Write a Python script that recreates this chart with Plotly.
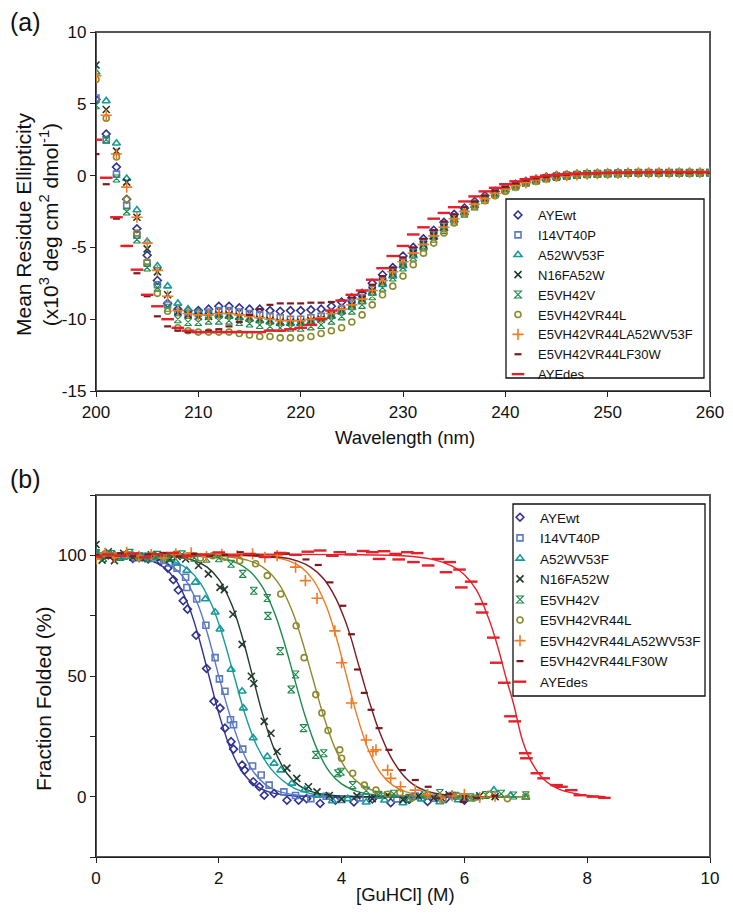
import plotly.graph_objects as go

# the page keeps an 8px body margin; size the figure so that nothing scrolls
PAGE_W, PAGE_H, OFFSET = 733, 914, 8
W, H = PAGE_W - OFFSET, PAGE_H - 2 * OFFSET
FONT = "Liberation Sans, Arial, Helvetica, sans-serif"

# ---------- styles shared by both panels ----------
NAMES = ["AYEwt", "I14VT40P", "A52WV53F", "N16FA52W", "E5VH42V",
         "E5VH42VR44L", "E5VH42VR44LA52WV53F", "E5VH42VR44LF30W", "AYEdes"]
COLORS = ["#2E3192", "#5A78C4", "#179A9A", "#1F3A2A", "#1D8A4B",
          "#8C8A2C", "#F27A24", "#7A1A1E", "#E5202A"]
SYMBOLS = ["diamond-open", "square-open", "triangle-up-open", "x-thin-open",
           "hourglass-open", "circle-open", "cross-thin-open", "line-ew-open", "line-ew-open"]
SIZES = [6, 6, 7, 7, 7, 6, 8, 5, 9]
WIDTHS = [1.6, 1.6, 1.6, 1.6, 1.1, 1.6, 1.6, 2.2, 2.4]

# ---------- panel (a): CD spectra ----------
WAVELENGTH = [200, 201, 202, 203, 204, 205, 206, 207, 208, 209,
              210, 211, 212, 213, 214, 215, 216, 217, 218, 219,
              220, 221, 222, 223, 224, 225, 226, 227, 228, 229,
              230, 231, 232, 233, 234, 235, 236, 237, 238, 239,
              240, 241, 242, 243, 244, 245, 246, 247, 248, 249,
              250, 251, 252, 253, 254, 255, 256, 257, 258, 259,
              260]

CD_AYEWT = [5.3, 2.9, 0.6, -1.65, -3.7, -5.55, -7.3, -8.9, -9.3, -9.4,
            -9.4, -9.3, -9.1, -9.1, -9.2, -9.3, -9.3, -9.4, -9.45, -9.4,
            -9.4, -9.35, -9.3, -9.1, -8.8, -8.5, -8.2, -7.5, -6.9, -6.4,
            -5.6, -5.0, -4.4, -3.8, -3.25, -2.7, -2.25, -1.8, -1.4, -1.1,
            -0.85, -0.6, -0.4, -0.25, -0.1, 0.0, 0.05, 0.1, 0.12, 0.15,
            0.15, 0.18, 0.2, 0.2, 0.2, 0.22, 0.2, 0.2, 0.22, 0.2,
            0.2]
CD_I14VT40P = [5.4, 2.5, 0.1, -2.1, -4.15, -6.1, -7.6, -9.0, -9.5, -9.6,
               -9.6, -9.5, -9.4, -9.4, -9.5, -9.6, -9.7, -9.8, -9.9, -10.0,
               -10.0, -9.9, -9.8, -9.6, -9.3, -8.9, -8.5, -7.9, -7.3, -6.7,
               -6.0, -5.3, -4.7, -4.1, -3.5, -2.9, -2.4, -1.95, -1.55, -1.2,
               -0.9, -0.65, -0.45, -0.3, -0.15, -0.05, 0.0, 0.05, 0.1, 0.12,
               0.15, 0.15, 0.18, 0.2, 0.2, 0.2, 0.2, 0.22, 0.2, 0.2,
               0.22]
CD_A52WV53F = [7.2, 5.2, 2.25, -0.2, -2.4, -4.6, -6.3, -7.7, -8.9, -9.3,
               -9.5, -9.6, -9.7, -9.8, -9.9, -10.0, -10.1, -10.2, -10.3, -10.3,
               -10.3, -10.2, -10.0, -9.8, -9.5, -9.2, -8.8, -8.2, -7.6, -7.0,
               -6.3, -5.6, -5.0, -4.3, -3.7, -3.1, -2.6, -2.1, -1.65, -1.3,
               -1.0, -0.7, -0.5, -0.35, -0.2, -0.1, 0.0, 0.05, 0.1, 0.1,
               0.15, 0.15, 0.18, 0.2, 0.2, 0.2, 0.2, 0.2, 0.2, 0.2,
               0.2]
CD_N16FA52W = [7.7, 4.6, 1.7, -0.45, -2.9, -5.1, -6.7, -8.3, -9.5, -9.7,
               -9.8, -9.8, -9.7, -9.7, -9.8, -9.9, -10.0, -10.1, -10.2, -10.2,
               -10.2, -10.1, -10.0, -9.7, -9.4, -9.0, -8.6, -8.0, -7.4, -6.8,
               -6.1, -5.4, -4.8, -4.2, -3.6, -3.0, -2.5, -2.0, -1.6, -1.25,
               -0.95, -0.7, -0.5, -0.3, -0.15, -0.05, 0.0, 0.05, 0.1, 0.12,
               0.15, 0.15, 0.18, 0.2, 0.2, 0.2, 0.2, 0.2, 0.2, 0.2,
               0.2]
CD_E5VH42V = [4.9, 2.5, -0.2, -2.5, -4.45, -6.4, -7.8, -9.2, -10.0, -10.2,
              -10.2, -10.1, -10.1, -10.1, -10.2, -10.3, -10.4, -10.5, -10.6, -10.6,
              -10.6, -10.5, -10.4, -10.1, -9.8, -9.4, -9.0, -8.4, -7.8, -7.1,
              -6.4, -5.7, -5.0, -4.4, -3.8, -3.2, -2.65, -2.15, -1.7, -1.3,
              -1.0, -0.75, -0.5, -0.35, -0.2, -0.1, 0.0, 0.05, 0.1, 0.12,
              0.15, 0.15, 0.18, 0.2, 0.2, 0.2, 0.2, 0.2, 0.2, 0.2,
              0.2]
CD_R44L = [6.7, 4.0, 1.3, -1.65, -4.0, -6.0, -8.2, -9.45, -10.6, -10.8,
           -10.9, -10.9, -10.9, -10.9, -11.0, -11.1, -11.2, -11.2, -11.3, -11.3,
           -11.3, -11.2, -11.0, -10.8, -10.6, -10.2, -9.7, -9.0, -8.3, -7.7,
           -7.0, -6.2, -5.4, -4.7, -4.0, -3.3, -2.6, -2.15, -1.75, -1.4,
           -1.1, -0.8, -0.55, -0.35, -0.2, -0.1, 0.0, 0.05, 0.1, 0.12,
           0.15, 0.15, 0.18, 0.2, 0.2, 0.2, 0.2, 0.2, 0.2, 0.2,
           0.2]
CD_R44L_A52W = [6.95, 4.2, 1.5, -0.8, -2.9, -4.7, -6.6, -8.4, -9.4, -9.6,
                -9.7, -9.7, -9.6, -9.6, -9.7, -9.8, -9.9, -10.0, -10.1, -10.1,
                -10.1, -10.0, -9.9, -9.6, -9.3, -9.0, -8.6, -8.0, -7.3, -6.7,
                -6.0, -5.4, -4.8, -4.2, -3.6, -3.0, -2.5, -2.0, -1.6, -1.25,
                -0.95, -0.7, -0.5, -0.3, -0.15, -0.05, 0.0, 0.05, 0.1, 0.12,
                0.15, 0.15, 0.18, 0.2, 0.2, 0.2, 0.2, 0.2, 0.2, 0.2,
                0.2]
CD_R44L_F30W = [1.5, -0.6, -3.0, -4.9, -6.8, -8.4, -9.8, -10.5, -10.8, -10.9,
                -10.9, -10.8, -10.7, -10.5, -10.2, -9.7, -9.3, -9.0, -8.9, -8.9,
                -8.9, -8.85, -8.85, -8.8, -8.7, -8.5, -8.1, -7.6, -7.0, -6.4,
                -5.7, -5.0, -4.4, -3.8, -3.2, -2.7, -2.2, -1.8, -1.4, -1.05,
                -0.8, -0.55, -0.35, -0.2, -0.1, 0.0, 0.05, 0.1, 0.15, 0.15,
                0.18, 0.2, 0.2, 0.2, 0.22, 0.2, 0.22, 0.2, 0.2, 0.22,
                0.2]
CD_AYEDES = [2.5, -0.15, -2.9, -4.9, -6.55, -8.3, -9.1, -10.0, -10.6, -10.8,
             -10.9, -10.9, -10.9, -10.9, -10.9, -10.9, -10.9, -10.8, -10.8, -10.7,
             -10.6, -10.4, -10.0, -9.4, -8.7, -8.3, -8.0, -7.25, -6.45, -5.6,
             -4.9, -4.1, -3.6, -3.0, -2.6, -2.2, -1.8, -1.45, -1.1, -0.85,
             -0.6, -0.4, -0.25, -0.1, 0.0, 0.05, 0.1, 0.15, 0.15, 0.18,
             0.2, 0.2, 0.22, 0.22, 0.25, 0.25, 0.25, 0.25, 0.25, 0.25,
             0.25]

CD_SERIES = [CD_AYEWT, CD_I14VT40P, CD_A52WV53F, CD_N16FA52W, CD_E5VH42V,
             CD_R44L, CD_R44L_A52W, CD_R44L_F30W, CD_AYEDES]

# ---------- panel (b): GuHCl denaturation, measured points ----------
M_AYEWT = [0.0, 0.1, 0.2, 0.3, 0.45, 0.6, 0.75, 0.85, 0.95, 1.05, 1.17, 1.26, 1.34, 1.42,
           1.49, 1.63, 1.80, 1.92, 2.02, 2.10, 2.20, 2.24, 2.38, 2.42, 2.56, 2.66, 2.74,
           2.90, 3.11, 3.30, 3.43, 3.65, 3.9, 4.2, 4.5, 4.8, 5.1, 5.4, 5.7, 6.0]
F_AYEWT = [100.5, 99.5, 100.2, 99.0, 99.8, 98.7, 99.3, 98.5, 99.9, 97.6, 94.7, 89.9, 85.6, 81.2,
           77.7, 66.9, 53.1, 39.5, 36.7, 28.4, 22.8, 19.7, 13.1, 11.0, 6.2, 4.1, 0.6,
           1.3, -1.5, -1.5, -0.8, -2.8, -1.5, -2.2, -1.0, -2.5, -1.2, -2.0, -0.8, -1.5]

M_I14VT40P = [0.0, 0.1, 0.2, 0.35, 0.5, 0.65, 0.8, 0.95, 1.1, 1.2, 1.32, 1.46, 1.48, 1.64,
              1.79, 1.94, 2.01, 2.10, 2.19, 2.24, 2.39, 2.55, 2.69, 2.82, 3.06, 3.25, 3.5,
              3.75, 4.0, 4.3, 4.6, 4.9, 5.2, 5.5, 5.8, 6.0]
F_I14VT40P = [101.0, 99.8, 100.4, 99.2, 100.1, 99.0, 99.6, 98.8, 97.9, 96.8, 94.7, 90.9, 86.7, 81.9,
              71.0, 57.6, 48.8, 43.7, 31.9, 29.8, 19.7, 12.7, 9.0, 4.8, 2.0, 0.5, -0.8,
              0.2, -1.2, -0.5, 0.8, -0.9, 0.3, -0.6, 0.5, -0.2]

M_A52WV53F = [0.0, 0.15, 0.3, 0.45, 0.6, 0.8, 1.0, 1.15, 1.3, 1.48, 1.62, 1.78, 1.94, 2.02,
              2.20, 2.38, 2.40, 2.56, 2.79, 2.90, 3.01, 3.19, 3.4, 3.6, 3.85, 4.1, 4.4,
              4.7, 5.0, 5.3, 5.6, 5.9, 6.2, 6.48, 6.75, 7.0]
F_A52WV53F = [100.8, 99.6, 100.3, 99.1, 100.0, 99.4, 98.9, 98.2, 97.1, 93.7, 88.8, 81.9, 76.4, 69.4,
              52.7, 43.7, 36.7, 24.3, 16.6, 13.8, 11.0, 5.5, 2.8, 0.5, -1.8, -0.9, -2.3,
              -1.5, -2.6, -1.0, -2.2, -1.4, -0.5, 2.7, 0.5, -0.3]

M_N16FA52W = [0.0, 0.1, 0.2, 0.3, 0.45, 0.6, 0.75, 0.9, 1.05, 1.2, 1.32, 1.46, 1.67, 1.83,
              2.02, 2.09, 2.23, 2.38, 2.53, 2.57, 2.74, 2.85, 2.95, 3.11, 3.27, 3.46, 3.60,
              3.8, 4.0, 4.25, 4.5, 4.75, 5.0, 5.25, 5.5, 5.75, 6.0, 6.25, 6.5]
F_N16FA52W = [104.5, 98.0, 101.5, 97.8, 100.8, 99.2, 98.6, 100.2, 99.0, 98.3, 99.5, 98.5, 95.8, 92.3,
              86.7, 85.8, 75.6, 63.1, 49.9, 46.9, 31.2, 26.3, 18.7, 11.8, 7.6, 4.1, 2.0,
              0.5, -1.0, 0.3, -0.8, 0.6, -1.2, 0.2, -0.5, 0.8, -0.3, 0.4, 0.0]

M_E5VH42V = [0.0, 0.12, 0.25, 0.4, 0.55, 0.7, 0.85, 1.0, 1.2, 1.4, 1.6, 1.8, 2.0, 2.20,
             2.39, 2.57, 2.79, 2.80, 3.00, 3.18, 3.25, 3.38, 3.58, 3.71, 3.94, 3.99, 4.18,
             4.4, 4.6, 4.85, 5.1, 5.35, 5.6, 5.85, 6.1, 6.35, 6.6, 6.8, 7.0]
F_E5VH42V = [100.8, 98.9, 100.5, 99.3, 101.0, 99.6, 98.8, 100.2, 99.1, 100.4, 99.0, 98.6, 98.8, 96.5,
             92.3, 85.3, 82.3, 74.9, 60.3, 44.4, 50.6, 28.4, 17.3, 18.0, 9.7, 10.3, 4.8,
             2.5, 0.8, 1.2, -0.5, 0.9, 1.5, 0.4, -0.3, 0.7, 1.2, 0.5, 0.6]

M_R44L = [0.0, 0.15, 0.3, 0.5, 0.7, 0.9, 1.1, 1.3, 1.5, 1.7, 1.9, 2.1, 2.34, 2.60,
          2.79, 3.01, 3.26, 3.39, 3.58, 3.68, 3.78, 3.97, 4.00, 4.18, 4.37, 4.56, 4.75,
          4.95, 5.15, 5.4, 5.65, 5.9, 6.15, 6.4, 6.7, 7.0]
F_R44L = [99.5, 100.6, 99.8, 100.3, 99.2, 100.0, 99.4, 100.5, 99.6, 98.9, 99.8, 99.2, 97.8, 96.5,
          91.6, 84.0, 70.8, 57.6, 42.3, 34.7, 27.4, 19.4, 15.9, 9.7, 4.8, 2.7, 1.0,
          1.6, -0.5, 0.8, -1.2, 0.3, -0.6, 1.0, -0.8, 0.2]

M_R44L_A52W = [0.0, 0.15, 0.3, 0.5, 0.7, 0.9, 1.1, 1.3, 1.55, 1.8, 2.05, 2.3, 2.55, 2.75,
               2.95, 3.25, 3.41, 3.60, 3.89, 4.00, 4.16, 4.40, 4.51, 4.56, 4.75, 4.80, 4.96,
               5.20, 5.4, 5.6, 5.8, 6.0, 6.25, 6.5]
F_R44L_A52W = [98.5, 100.8, 99.2, 101.2, 99.6, 100.3, 98.9, 100.6, 101.0, 99.5, 100.4, 99.8, 100.6, 99.2,
               99.9, 95.1, 89.5, 82.2, 68.7, 55.5, 38.8, 23.5, 18.7, 19.4, 11.0, 7.6, 4.1,
               2.7, 0.9, -0.6, 0.4, 1.0, -0.3, 0.2]

M_R44L_F30W = [0.0, 0.2, 0.4, 0.6, 0.85, 1.1, 1.35, 1.6, 1.85, 2.1, 2.35, 2.6, 2.85, 3.1,
               3.42, 3.62, 3.81, 4.02, 4.16, 4.26, 4.37, 4.48, 4.61, 4.77, 4.99, 5.20, 5.41,
               5.55, 5.75, 5.98, 6.2, 6.5]
F_R44L_F30W = [100.2, 99.0, 100.9, 99.6, 100.4, 101.0, 99.5, 100.6, 99.8, 100.2, 101.3, 100.0, 99.4, 100.8,
               98.3, 96.0, 88.8, 79.1, 67.3, 52.7, 43.0, 36.0, 28.4, 19.4, 11.0, 6.9, 4.1,
               -0.7, 1.0, -2.2, -0.5, 0.3]

M_AYEDES = [0.0, 0.2, 0.4, 0.6, 0.8, 1.0, 1.25, 1.5, 1.75, 2.0, 2.25, 2.5, 2.75, 3.0,
            3.25, 3.45, 3.65, 3.85, 3.97, 4.15, 4.35, 4.5, 4.61, 4.69, 4.88, 4.93, 5.07,
            5.17, 5.23, 5.41, 5.57, 5.70, 5.76, 5.92, 5.95, 6.11, 6.27, 6.29, 6.47, 6.52,
            6.65, 6.75, 6.82, 6.99, 7.01, 7.18, 7.29, 7.50, 7.58, 7.74, 7.88, 8.09, 8.28]
F_AYEDES = [99.5, 100.4, 99.8, 100.8, 99.2, 100.5, 101.0, 99.6, 100.3, 101.2, 99.9, 100.6, 99.3, 101.0,
            100.2, 101.5, 102.0, 99.8, 101.3, 100.4, 101.8, 101.3, 98.5, 101.7, 100.6, 98.3, 101.3,
            97.2, 100.9, 95.8, 98.5, 93.0, 97.2, 94.1, 86.7, 89.1, 79.8, 76.3, 65.9, 55.5,
            47.2, 33.3, 31.2, 18.0, 15.9, 9.7, 7.6, 4.8, 4.1, 2.7, 0.6, 0.0, -0.5]

# ---------- panel (b): fitted curves ----------
FIT_M_AYEWT = [0.0, 0.6, 0.9, 1.1, 1.3, 1.5, 1.65, 1.84, 2.0, 2.2, 2.4, 2.6, 2.8, 3.1, 3.5, 6.0]
FIT_F_AYEWT = [100, 99.3, 97.7, 95.1, 89.7, 79.6, 68.1, 50, 34.5, 19.2, 9.6, 4.6, 2.1, 0.6, 0.1, 0]
FIT_M_I14VT40P = [0.0, 0.76, 1.06, 1.26, 1.46, 1.66, 1.81, 2.0, 2.16, 2.36, 2.56, 2.76, 2.96, 3.26, 3.66, 6.0]
FIT_F_I14VT40P = [100, 99.3, 97.7, 95.1, 89.7, 79.6, 68.1, 50, 35.5, 20.5, 10.5, 5.0, 2.3, 0.7, 0.1, 0]
FIT_M_A52WV53F = [0.0, 1.0, 1.3, 1.5, 1.7, 1.9, 2.05, 2.25, 2.42, 2.62, 2.85, 3.05, 3.25, 3.55, 4.0, 7.0]
FIT_F_A52WV53F = [100, 99.0, 97.1, 94.2, 88.5, 78.6, 67.7, 50, 34.7, 21.0, 11.5, 6.5, 3.2, 1.0, 0.2, 0]
FIT_M_N16FA52W = [0.0, 1.31, 1.61, 1.81, 2.01, 2.21, 2.36, 2.55, 2.71, 2.91, 3.11, 3.31, 3.51, 3.81, 4.21, 6.5]
FIT_F_N16FA52W = [100, 99.3, 97.7, 95.1, 89.7, 79.6, 68.1, 50, 34.5, 19.2, 9.6, 4.6, 2.1, 0.6, 0.1, 0]
FIT_M_E5VH42V = [0.0, 2.0, 2.3, 2.5, 2.7, 2.9, 3.05, 3.22, 3.4, 3.6, 3.8, 4.0, 4.25, 4.55, 5.0, 7.0]
FIT_F_E5VH42V = [100, 98.9, 96.8, 93.5, 87.3, 76.6, 65.2, 50, 33.9, 19.7, 10.4, 5.3, 2.2, 0.7, 0.1, 0]
FIT_M_R44L = [0.0, 2.3, 2.6, 2.8, 3.0, 3.2, 3.35, 3.52, 3.7, 3.9, 4.1, 4.3, 4.55, 4.85, 5.3, 7.0]
FIT_F_R44L = [100, 98.9, 96.8, 93.5, 87.3, 76.6, 65.2, 50, 33.9, 19.7, 10.4, 5.3, 2.2, 0.7, 0.1, 0]
FIT_M_R44L_A52W = [0.0, 2.84, 3.14, 3.34, 3.54, 3.74, 3.89, 4.08, 4.24, 4.44, 4.64, 4.84, 5.04, 5.34, 5.74, 6.5]
FIT_F_R44L_A52W = [100, 99.3, 97.7, 95.1, 89.7, 79.6, 68.1, 50, 34.5, 19.2, 9.6, 4.6, 2.1, 0.6, 0.1, 0]
FIT_M_R44L_F30W = [0.0, 3.0, 3.3, 3.5, 3.7, 3.9, 4.05, 4.15, 4.25, 4.33, 4.45, 4.6, 4.8, 5.0, 5.2, 5.5, 5.9, 6.5]
FIT_F_R44L_F30W = [100, 99.2, 97.5, 95.0, 90.5, 82.5, 73.5, 66, 57, 50, 39.5, 28, 16.5, 9, 4.5, 1.5, 0.3, 0]
FIT_M_AYEDES = [0.0, 2.0, 4.0, 5.0, 5.5, 5.8, 6.0, 6.2, 6.4, 6.55, 6.67, 6.8, 6.95, 7.1, 7.3, 7.55, 7.8, 8.05, 8.3]
FIT_F_AYEDES = [100.6, 100.5, 100.3, 99.8, 98.2, 95.5, 92.0, 85.5, 73.5, 61.5, 50, 38.5, 23, 14, 7.0, 3.0, 1.3, 0.4, 0]

DEN_POINTS = [(M_AYEWT, F_AYEWT), (M_I14VT40P, F_I14VT40P), (M_A52WV53F, F_A52WV53F),
              (M_N16FA52W, F_N16FA52W), (M_E5VH42V, F_E5VH42V), (M_R44L, F_R44L),
              (M_R44L_A52W, F_R44L_A52W), (M_R44L_F30W, F_R44L_F30W), (M_AYEDES, F_AYEDES)]
DEN_FITS = [(FIT_M_AYEWT, FIT_F_AYEWT), (FIT_M_I14VT40P, FIT_F_I14VT40P),
            (FIT_M_A52WV53F, FIT_F_A52WV53F), (FIT_M_N16FA52W, FIT_F_N16FA52W),
            (FIT_M_E5VH42V, FIT_F_E5VH42V), (FIT_M_R44L, FIT_F_R44L),
            (FIT_M_R44L_A52W, FIT_F_R44L_A52W), (FIT_M_R44L_F30W, FIT_F_R44L_F30W),
            (FIT_M_AYEDES, FIT_F_AYEDES)]


# page pixel -> paper fraction
def px(x):
    return (x - OFFSET) / W


def py(y):
    return 1 - (y - OFFSET) / H


fig = go.Figure()

# panel (a)
for name, color, sym, size, lw, ys in zip(NAMES, COLORS, SYMBOLS, SIZES, WIDTHS, CD_SERIES):
    fig.add_trace(go.Scatter(
        x=WAVELENGTH, y=ys, mode="markers", name=name,
        marker=dict(symbol=sym, size=size, color=color, line=dict(color=color, width=lw)),
        xaxis="x", yaxis="y", legend="legend"))

# panel (b): fitted lines first, markers on top
for color, (fx, fy) in zip(COLORS, DEN_FITS):
    fig.add_trace(go.Scatter(
        x=fx, y=fy, mode="lines", line=dict(color=color, width=1.4, shape="spline", smoothing=1.0),
        showlegend=False, hoverinfo="skip", xaxis="x2", yaxis="y2"))
for name, color, sym, size, lw, (mx, fy) in zip(NAMES, COLORS, SYMBOLS, SIZES, WIDTHS, DEN_POINTS):
    fig.add_trace(go.Scatter(
        x=mx, y=fy, mode="markers", name=name,
        marker=dict(symbol=sym, size=size, color=color, line=dict(color=color, width=lw)),
        xaxis="x2", yaxis="y2", legend="legend2"))

axis_common = dict(showgrid=False, zeroline=False, showline=True, linecolor="#222",
                   linewidth=1.4, ticks="outside", ticklen=5, tickcolor="#222",
                   automargin=False, ticklabeloverflow="allow",
                   tickfont=dict(family=FONT, size=17, color="#111"))

# right end of the plot areas, pulled in a little so the last tick label fits
RIGHT = 710

fig.update_layout(
    width=W, height=H, margin=dict(l=0, r=0, t=0, b=0),
    paper_bgcolor="white", plot_bgcolor="white",
    font=dict(family=FONT, color="#111"),
    xaxis=dict(domain=[px(96), px(RIGHT)], range=[200, 260], dtick=10, anchor="y", **axis_common),
    yaxis=dict(domain=[py(391), py(32)], range=[-15, 10], anchor="x",
               tickvals=[-15, -10, -5, 0, 5, 10], ticktext=["-15", "-10", "-5", "0", "5", "10"],
               **axis_common),
    xaxis2=dict(domain=[px(96), px(RIGHT)], range=[0, 10], dtick=2, anchor="y2", **axis_common),
    yaxis2=dict(domain=[py(857), py(495)], range=[-25, 125], tick0=0, dtick=50, anchor="x2",
                minor=dict(tick0=0, dtick=25, ticks="outside", ticklen=5, tickcolor="#222"),
                **axis_common),
    legend=dict(x=px(498), y=py(200), xanchor="left", yanchor="top",
                bgcolor="rgba(0,0,0,0)", borderwidth=0,
                font=dict(family=FONT, size=13, color="#111")),
    legend2=dict(x=px(500), y=py(502), xanchor="left", yanchor="top",
                 bgcolor="rgba(0,0,0,0)", borderwidth=0,
                 font=dict(family=FONT, size=13.5, color="#111")),
)

# plot-area frames and legend boxes
shapes = []
for xr, yr in (("x", "y"), ("x2", "y2")):
    shapes.append(dict(type="rect", xref=f"{xr} domain", yref=f"{yr} domain",
                       x0=0, x1=1, y0=0, y1=1, line=dict(color="#555", width=2),
                       layer="below"))
shapes.append(dict(type="rect", xref="paper", yref="paper",
                   x0=px(506), x1=px(704), y0=py(378), y1=py(199),
                   line=dict(color="#111", width=1.3)))
shapes.append(dict(type="rect", xref="paper", yref="paper",
                   x0=px(513), x1=px(705), y0=py(696), y1=py(504),
                   line=dict(color="#111", width=1.3)))
fig.update_layout(shapes=shapes)

annotations = [
    dict(text="(a)", x=px(8), y=py(22), xanchor="left", yanchor="middle", font=dict(size=25)),
    dict(text="(b)", x=px(8), y=py(479), xanchor="left", yanchor="middle", font=dict(size=25)),
    dict(text="Wavelength (nm)", x=px(405), y=py(438), xanchor="center", yanchor="middle",
         font=dict(size=18.5)),
    dict(text="[GuHCl] (M)", x=px(405), y=py(894), xanchor="center", yanchor="middle",
         font=dict(size=18.5)),
    dict(text="Mean Residue Ellipticity<br>(x10<sup>3</sup> deg cm<sup>2</sup> dmol<sup>-1</sup>)",
         x=px(37), y=py(225), xanchor="center", yanchor="middle", textangle=-90,
         font=dict(size=21)),
    dict(text="Fraction Folded (%)", x=px(43), y=py(699), xanchor="center", yanchor="middle",
         textangle=-90, font=dict(size=21)),
]
for a in annotations:
    a.update(xref="paper", yref="paper", showarrow=False)
    a["font"] = dict(family=FONT, color="#111", **a["font"])
fig.update_layout(annotations=annotations)

fig.write_html("out.html")
